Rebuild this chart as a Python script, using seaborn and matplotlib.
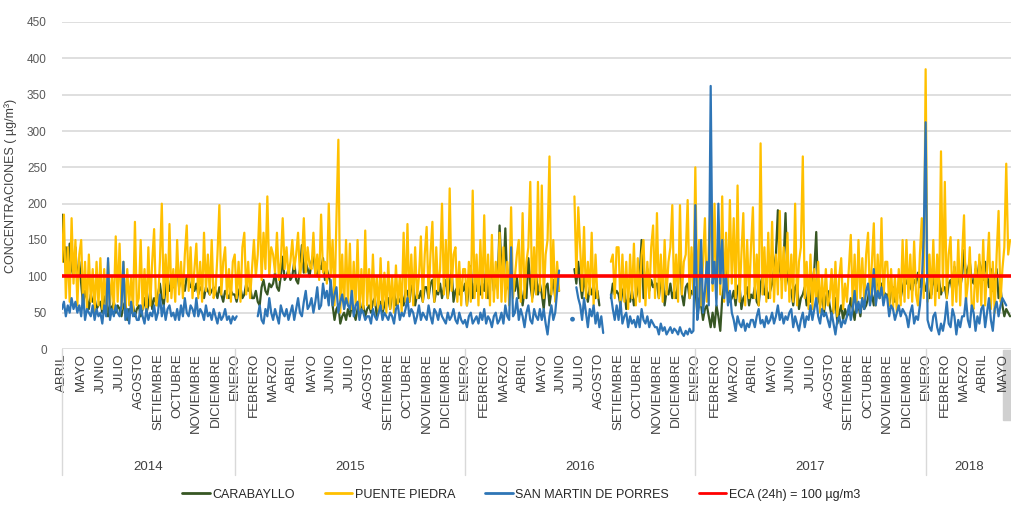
import numpy as np
import pandas as pd
import matplotlib
matplotlib.use("Agg")
import matplotlib.pyplot as plt
import seaborn as sns
from matplotlib.lines import Line2D
from matplotlib.patches import Rectangle
from matplotlib.transforms import blended_transform_factory

nan = np.nan

# ---------------- data ----------------
month_labels = [
    "ABRIL", "MAYO", "JUNIO", "JULIO", "AGOSTO", "SETIEMBRE", "OCTUBRE", "NOVIEMBRE", "DICIEMBRE",
    "ENERO", "FEBRERO", "MARZO", "ABRIL", "MAYO", "JUNIO", "JULIO", "AGOSTO", "SETIEMBRE", "OCTUBRE", "NOVIEMBRE", "DICIEMBRE",
    "ENERO", "FEBRERO", "MARZO", "ABRIL", "MAYO", "JUNIO", "JULIO", "AGOSTO", "SETIEMBRE", "OCTUBRE", "NOVIEMBRE", "DICIEMBRE",
    "ENERO", "FEBRERO", "MARZO", "ABRIL", "MAYO", "JUNIO", "JULIO", "AGOSTO", "SETIEMBRE", "OCTUBRE", "NOVIEMBRE", "DICIEMBRE",
    "ENERO", "FEBRERO", "MARZO", "ABRIL", "MAYO",
]
years = ["2014", "2015", "2016", "2017", "2018"]
year_month_counts = [9, 12, 12, 12, 5]
samples_per_month = 10   # readings per month (about every 3 days)

carabayllo = [
    185, 120, 140, 100, 145, 110, 100, 140, 90, 120,   # abr 2014
    90, 60, 80, 70, 55, 75, 65, 70, 55, 60,
    65, 50, 70, 75, 45, 60, 55, 65, 50, 60,
    55, 45, 60, 65, 40, 55, 50, 60, 45, 55,
    60, 45, 55, 70, 50, 60, 80, 55, 70, 65,
    75, 90, 70, 60, 85, 100, 80, 90, 85, 95,
    115, 85, 100, 90, 80, 100, 95, 85, 90, 80,
    90, 75, 85, 80, 70, 85, 80, 75, 80, 85,
    80, 70, 85, 75, 65, 80, 75, 70, 80, 75,
    75, 65, 80, 85, 70, 75, 90, 80, 85, 70,            # ene 2015
    70, 80, 65, 60, 85, 95, 80, 75, 90, 85,
    90, 105, 85, 80, 100, 127, 95, 100, 110, 95,
    100, 120, 95, 90, 110, 143, 105, 120, 110, 100,
    120, 130, 105, 100, 115, 110, 125, 95, 110, 100,
    90, 60, 40, 55, 60, 35, 45, 50, 40, 55,
    45, 60, 50, 40, 55, 70, 50, 60, 45, 55,
    60, 50, 65, 70, 45, 55, 65, 50, 60, 70,
    70, 55, 75, 80, 60, 70, 65, 75, 60, 80,
    80, 65, 85, 90, 60, 75, 70, 80, 65, 85,
    85, 70, 90, 95, 65, 80, 75, 90, 70, 85,
    95, 70, 90, 109, 65, 80, 85, 75, 90, 80,
    90, 60, 85, 114, 70, 90, 80, 100, 75, 90,          # ene 2016
    80, 110, 70, 90, 120, 80, 100, 90, 170, 110,
    100, 166, 90, 80, 110, 90, 80, 100, 70, 85,
    60, 80, 70, 125, 90, 70, 85, 104, 75, 90,
    75, 55, 85, 90, 60, 80, 95, 70, 85, 80,
    nan, nan, nan, nan, nan, nan, nan, 110, 90, 120,
    90, 70, 100, 80, 65, 85, 75, 90, 70, 80,
    60, nan, nan, nan, nan, nan, 70, 90, 75, 80,
    75, 60, 80, 85, 55, 70, 65, 80, 60, 70,
    80, 100, 150, 70, 90, 110, 80, 95, 85, 90,
    90, 70, 95, 100, 60, 80, 75, 90, 70, 80,
    70, 90, 136, 75, 60, 85, 90, 70, 80, 75,
    85, 50, 70, 60, 40, 55, 60, 45, 30, 50,            # ene 2017
    30, 60, 45, 25, 70, 90, 113, 80, 65, 70,
    80, 60, 85, 90, 55, 70, 75, 85, 60, 75,
    70, 85, 65, 60, 90, 100, 75, 85, 70, 80,
    90, 110, 130, 191, 110, 95, 120, 187, 100, 85,
    80, 60, 85, 90, 55, 70, 75, 85, 60, 75,
    65, 90, 110, 161, 70, 60, 80, 50, 70, 80,
    60, 45, 55, 70, 35, 50, 60, 40, 55, 45,
    50, 70, 55, 40, 65, 60, 45, 70, 55, 60,
    70, 90, 75, 60, 85, 100, 70, 90, 80, 75,
    75, 60, 80, 85, 65, 75, 90, 70, 85, 95,
    90, 100, 85, 80, 95, 90, 105, 85, 100, 95,
    80, 90, 70, 75, 100, 85, 80, 95, 75, 85,           # ene 2018
    85, 70, 90, 95, 80, 113, 90, 100, 85, 100,
    136, 100, 110, 120, 95, 90, 110, 100, 120, 110,
    95, 120, 100, 85, 110, 80, 95, 110, 70, 85,
    60, 45, 55, 50, 45,
]

puente_piedra = [
    120, 185, 70, 140, 65, 180, 90, 150, 60, 130,      # abr 2014
    150, 60, 120, 55, 130, 65, 110, 50, 120, 60,
    125, 55, 110, 50, 120, 60, 100, 55, 155, 65,
    145, 55, 120, 50, 110, 60, 100, 50, 175, 60,
    70, 150, 55, 110, 50, 140, 60, 120, 165, 60,
    60, 120, 200, 70, 130, 65, 172, 70, 110, 65,
    150, 75, 120, 70, 130, 170, 80, 140, 70, 110,
    145, 70, 120, 65, 160, 80, 130, 75, 150, 70,
    80, 130, 198, 75, 120, 140, 70, 110, 65, 120,
    130, 70, 120, 65, 140, 160, 75, 120, 70, 110,      # ene 2015
    150, 100, 130, 200, 95, 160, 110, 210, 100, 140,
    130, 105, 160, 95, 120, 180, 110, 140, 100, 120,
    150, 110, 130, 160, 100, 120, 180, 105, 140, 115,
    110, 160, 100, 130, 95, 185, 105, 120, 90, 200,
    100, 150, 60, 180, 288, 50, 130, 55, 150, 60,
    145, 55, 120, 60, 150, 50, 110, 55, 163, 60,
    110, 55, 130, 60, 100, 50, 125, 55, 105, 50,
    120, 55, 100, 50, 115, 60, 100, 50, 160, 65,
    172, 65, 130, 60, 140, 70, 100, 155, 65, 130,
    168, 70, 130, 175, 65, 140, 80, 110, 200, 75,
    150, 70, 221, 80, 130, 140, 65, 120, 60, 110,
    110, 60, 120, 65, 218, 70, 130, 60, 150, 70,       # ene 2016
    184, 70, 130, 60, 157, 65, 120, 70, 160, 65,
    140, 65, 120, 60, 195, 70, 100, 130, 150, 65,
    187, 70, 120, 140, 230, 65, 140, 75, 230, 80,
    225, 70, 130, 150, 265, 75, 150, 65, 120, 80,
    nan, nan, nan, nan, nan, nan, nan, 210, 100, 195,
    140, 80, 168, 70, 120, 75, 160, 60, 130, 70,
    nan, nan, nan, nan, nan, nan, 120, 130, 70, 140,
    140, 60, 130, 65, 120, 55, 130, 70, 145, 60,
    125, 65, 130, 150, 60, 120, 70, 140, 170, 70,
    187, 70, 130, 65, 150, 75, 120, 140, 198, 70,
    130, 65, 198, 75, 120, 130, 205, 70, 140, 75,
    250, 70, 150, 60, 120, 180, 65, 140, 205, 80,      # ene 2017
    200, 70, 150, 75, 210, 65, 160, 80, 205, 90,
    180, 70, 225, 65, 130, 187, 60, 150, 70, 140,
    195, 70, 130, 60, 283, 75, 140, 65, 160, 70,
    175, 65, 130, 75, 190, 70, 140, 80, 160, 65,
    130, 65, 200, 60, 120, 140, 265, 70, 120, 55,
    130, 55, 110, 60, 120, 50, 100, 55, 110, 60,
    70, 110, 50, 120, 45, 100, 125, 55, 90, 65,
    110, 157, 60, 130, 55, 150, 70, 125, 65, 130,
    160, 65, 120, 173, 60, 130, 70, 180, 65, 120,
    120, 60, 110, 55, 100, 50, 110, 60, 150, 65,
    150, 70, 130, 65, 148, 75, 60, 130, 180, 70,
    385, 65, 130, 70, 150, 60, 130, 70, 272, 80,       # ene 2018
    230, 70, 130, 154, 60, 120, 65, 150, 60, 130,
    184, 65, 90, 140, 60, 55, 120, 65, 130, 60,
    150, 60, 110, 160, 55, 120, 50, 130, 190, 65,
    110, 140, 255, 130, 150,
]

san_martin = [
    55, 65, 45, 60, 50, 70, 55, 65, 50, 60,            # abr 2014
    45, 75, 40, 55, 50, 45, 60, 40, 55, 45,
    50, 35, 60, 45, 125, 40, 55, 45, 60, 50,
    45, 60, 120, 40, 55, 35, 65, 45, 50, 40,
    40, 60, 45, 35, 55, 40, 50, 45, 60, 40,
    50, 75, 45, 60, 40, 55, 60, 45, 50, 40,
    55, 40, 60, 45, 70, 50, 45, 60, 55, 45,
    70, 45, 55, 50, 40, 60, 45, 50, 40, 55,
    45, 35, 50, 40, 45, 55, 40, 45, 35, 45,
    40, 45, nan, nan, nan, nan, nan, nan, nan, nan,    # ene 2015
    nan, nan, 45, 60, 40, 35, 55, 45, 70, 50,
    40, 55, 45, 35, 60, 50, 45, 55, 40, 50,
    60, 40, 55, 70, 50, 45, 65, 80, 55, 60,
    70, 50, 65, 85, 55, 60, 90, 70, 80, 60,
    95, 60, 75, 85, 50, 65, 75, 55, 70, 60,
    55, 80, 45, 60, 65, 40, 55, 50, 40, 45,
    45, 35, 55, 45, 40, 50, 60, 40, 50, 45,
    40, 50, 45, 35, 55, 60, 40, 50, 45, 55,
    70, 45, 55, 50, 35, 45, 60, 40, 50, 45,
    40, 60, 45, 35, 55, 50, 40, 55, 45, 40,
    35, 50, 40, 45, 55, 40, 35, 50, 40, 35,
    40, 30, 45, 50, 35, 40, 45, 35, 50, 40,            # ene 2016
    55, 35, 45, 40, 30, 45, 50, 35, 40, 50,
    35, 60, 45, 40, 140, 45, 50, 70, 40, 55,
    45, 30, 50, 60, 40, 35, 55, 45, 40, 55,
    40, 55, 35, 20, 45, 60, 40, 50, 80, 108,
    nan, nan, nan, nan, nan, nan, 41, nan, 85, 70,
    60, 40, 70, 50, 30, 55, 45, 60, 35, 50,
    30, 45, 22, nan, nan, nan, 75, 55, 40, 60,
    40, 65, 35, 45, 50, 30, 45, 35, 40, 30,
    45, 30, 55, 40, 35, 45, 30, 40, 35, 30,
    30, 20, 35, 25, 30, 20, 25, 30, 22, 28,
    25, 20, 30, 22, 18, 25, 20, 28, 22, 25,
    198, 40, 60, 150, 50, 80, 120, 60, 362, 90,        # ene 2017
    120, 60, 200, 90, 150, 70, 100, 60, 80, 50,
    40, 25, 45, 35, 30, 40, 25, 35, 30, 40,
    40, 30, 45, 55, 35, 40, 30, 45, 35, 40,
    50, 35, 45, 60, 40, 50, 35, 45, 40, 50,
    55, 30, 45, 35, 25, 40, 50, 30, 45, 40,
    60, 40, 55, 70, 45, 35, 55, 45, 50, 40,
    30, 50, 35, 20, 40, 45, 30, 40, 35, 45,
    60, 40, 55, 80, 50, 65, 50, 70, 55, 80,
    90, 60, 75, 110, 60, 80, 70, 85, 60, 75,
    70, 45, 60, 55, 40, 50, 60, 45, 55, 50,
    45, 30, 50, 60, 35, 45, 40, 60, 90, 154,
    312, 40, 30, 25, 45, 50, 30, 20, 35, 25,           # ene 2018
    40, 65, 35, 30, 55, 45, 20, 40, 30, 45,
    45, 70, 40, 30, 60, 50, 25, 45, 35, 55,
    60, 30, 50, 70, 40, 25, 55, 65, 45, 60,
    70, 65, 60, nan, nan,
]

eca_limit = 100
series_names = ["CARABAYLLO", "PUENTE PIEDRA", "SAN MARTIN DE PORRES"]
eca_name = "ECA (24h) = 100 µg/m3"
series_colors = ["#375623", "#FFC000", "#2E75B6"]
eca_color = "#FF0000"

n_expected = 49 * samples_per_month + 5
for arr in (carabayllo, puente_piedra, san_martin):
    assert len(arr) == n_expected, len(arr)

# ---------------- figure ----------------
sns.set_theme(style="white")
plt.rcParams["font.family"] = ["Liberation Sans", "DejaVu Sans"]

fig = plt.figure(figsize=(10.12, 5.09), dpi=100)
ax = fig.add_axes([62 / 1012, 1 - 349 / 509, 950 / 1012, 327 / 509])

for name, vals, col in zip(series_names, [carabayllo, puente_piedra, san_martin], series_colors):
    y = np.array(vals, dtype=float)
    x = np.arange(len(y)) / samples_per_month
    seg = np.cumsum(np.isnan(y))
    df = pd.DataFrame({"x": x, "y": y, "seg": seg}).dropna()
    sns.lineplot(data=df, x="x", y="y", units="seg", estimator=None, sort=False,
                 color=col, lw=1.6, ax=ax, legend=False)
    sizes = df.groupby("seg")["x"].transform("size")
    iso = df[sizes == 1]
    if len(iso):
        sns.scatterplot(data=iso, x="x", y="y", color=col, s=12, edgecolor="none",
                        ax=ax, legend=False)

ax.axhline(eca_limit, color=eca_color, lw=2.6, zorder=5)

ax.set_ylim(0, 450)
ax.set_xlim(0, 49.5)
ax.set_yticks(np.arange(0, 451, 50))
ax.yaxis.grid(True, color="#d9d9d9", lw=1.2)
ax.set_axisbelow(True)
for s in ax.spines.values():
    s.set_visible(False)

ax.set_xticks(np.arange(len(month_labels)))
ax.set_xticklabels(month_labels, rotation=90, fontsize=9.5, color="#404040", va="top")
ax.tick_params(axis="x", length=0, pad=3)
ax.tick_params(axis="y", length=0, pad=11, labelsize=8.5, labelcolor="#595959")
ax.set_xlabel("")
ax.set_ylabel("CONCENTRACIONES ( µg/m³)", fontsize=9, color="#404040", labelpad=7)

trans = blended_transform_factory(ax.transData, ax.transAxes)
xmax = 49.5
start = 0
for yr, cnt in zip(years, year_month_counts):
    ax.plot([start, start], [0, -0.385], transform=trans, color="#d9d9d9", lw=1, clip_on=False)
    center = (start + min(start + cnt, xmax)) / 2
    ax.text(center, -0.36, yr, transform=trans, ha="center", va="center",
            fontsize=9.5, color="#404040")
    start += cnt

ax.add_patch(Rectangle((49.05, -0.217), 0.5, 0.214, transform=trans, color="#d0d0d0",
                       clip_on=False, zorder=0))

handles = [Line2D([0], [0], color=c, lw=2) for c in series_colors] + [Line2D([0], [0], color=eca_color, lw=2)]
labels = series_names + [eca_name]
fig.legend(handles, labels, loc="center", bbox_to_anchor=(0.515, 0.028), ncol=4, frameon=False,
           fontsize=9, handlelength=2.2, columnspacing=2.4, handletextpad=0.2,
           labelcolor="#262626")

fig.savefig("out.png", dpi=100)
